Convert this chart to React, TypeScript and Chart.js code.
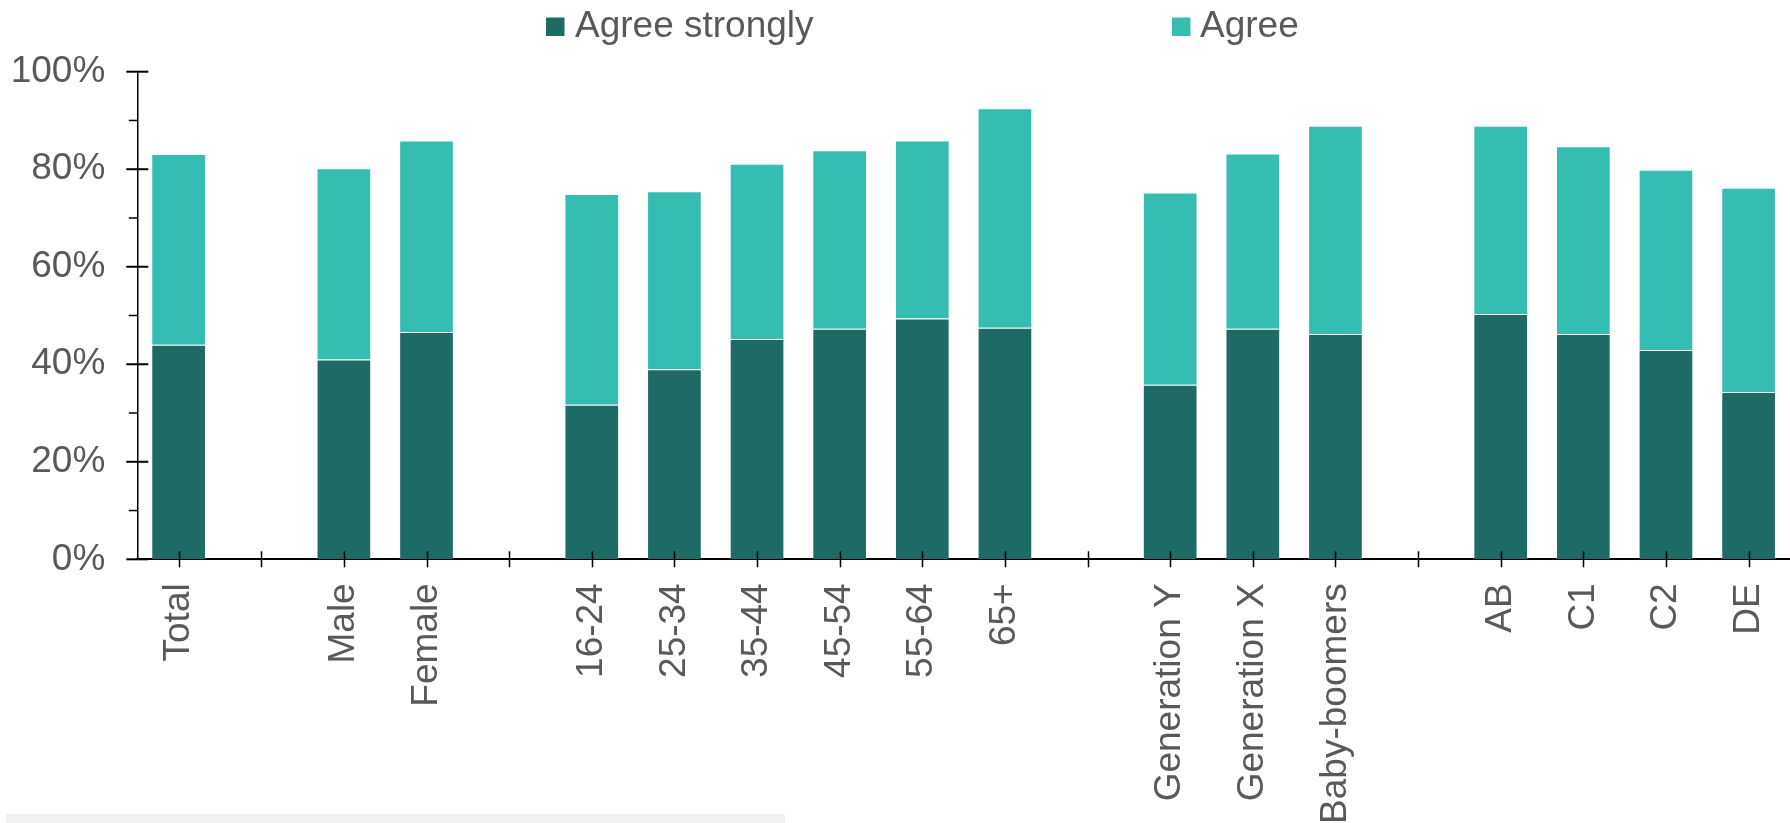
import React, { useEffect, useRef } from 'react';
import { Chart, registerables } from 'chart.js';

Chart.register(...registerables);

const categories = ['Total', '', 'Male', 'Female', '', '16-24', '25-34', '35-44', '45-54', '55-64', '65+', '', 'Generation Y', 'Generation X', 'Baby-boomers', '', 'AB', 'C1', 'C2', 'DE'];
const agreeStrongly = [44.0, null, 41.0, 46.6, null, 31.7, 39.0, 45.2, 47.3, 49.4, 47.5, null, 35.8, 47.3, 46.2, null, 50.3, 46.2, 42.9, 34.3];
const agree = [39.1, null, 39.2, 39.3, null, 43.2, 36.5, 35.9, 36.6, 36.5, 45.0, null, 39.4, 35.9, 42.7, null, 38.6, 38.5, 37.0, 41.9];
const seriesNames = ['Agree strongly', 'Agree'];
const seriesColors = ['#1e6b65', '#36bdb1'];
const yMajorTicks = [0, 20, 40, 60, 80, 100];
const yMinorTicks = [10, 30, 50, 70, 90];

const FONT = "'Liberation Sans', Arial, sans-serif";
const TEXT = '#595959';
const FONT_SIZE = 37;

const axisMarks = {
  id: 'axisMarks',
  afterDatasetsDraw(chart: any) {
    const ctx = chart.ctx;
    const xs = chart.scales.x;
    const ys = chart.scales.y;
    const area = chart.chartArea;
    ctx.save();
    ctx.strokeStyle = '#000';
    ctx.lineWidth = 1.5;
    categories.forEach((_, i) => {
      const x = Math.round(xs.getPixelForValue(i)) + 0.5;
      ctx.beginPath();
      ctx.moveTo(x, area.bottom - 8);
      ctx.lineTo(x, area.bottom + 8);
      ctx.stroke();
    });
    ctx.lineWidth = 2;
    yMajorTicks.forEach((v) => {
      const y = ys.getPixelForValue(v);
      ctx.beginPath();
      ctx.moveTo(area.left - 11, y);
      ctx.lineTo(area.left + 11, y);
      ctx.stroke();
    });
    ctx.lineWidth = 1.5;
    yMinorTicks.forEach((v) => {
      const y = ys.getPixelForValue(v);
      ctx.beginPath();
      ctx.moveTo(area.left - 8.5, y);
      ctx.lineTo(area.left, y);
      ctx.stroke();
    });
    ctx.restore();
  },
  afterDraw(chart: any) {
    const ctx = chart.ctx;
    ctx.save();
    const items = [
      { box: 546, text: 575 },
      { box: 1172, text: 1200 },
    ];
    chart.data.datasets.forEach((ds: any, i: number) => {
      ctx.fillStyle = ds.backgroundColor;
      ctx.fillRect(items[i].box, 17.5, 18.5, 18.5);
      ctx.fillStyle = TEXT;
      ctx.font = `${FONT_SIZE}px ${FONT}`;
      ctx.textBaseline = 'alphabetic';
      ctx.textAlign = 'left';
      ctx.fillText(ds.label, items[i].text, 36.7);
    });
    ctx.restore();
  },
};

export default function App() {
  const ref = useRef<HTMLCanvasElement>(null);
  useEffect(() => {
    if (!ref.current) return;
    const chart = new Chart(ref.current, {
      type: 'bar',
      data: {
        labels: categories,
        datasets: [
          { label: seriesNames[0], data: agreeStrongly, backgroundColor: seriesColors[0], borderColor: 'rgba(255,255,255,0.18)', borderWidth: 1 },
          { label: seriesNames[1], data: agree, backgroundColor: seriesColors[1], borderColor: 'rgba(255,255,255,0.25)', borderWidth: 1 },
        ],
      },
      options: {
        responsive: false,
        animation: false,
        devicePixelRatio: 1,
        layout: { padding: { top: 71.7, left: 0, right: 0, bottom: 0 } },
        datasets: { bar: { categoryPercentage: 1, barPercentage: 0.662 } },
        plugins: { legend: { display: false }, tooltip: { enabled: false } },
        scales: {
          x: {
            stacked: true,
            grid: { display: false, drawTicks: false },
            border: { display: true, color: '#000', width: 2 },
            ticks: {
              autoSkip: false,
              maxRotation: 90,
              minRotation: 90,
              padding: 24,
              color: TEXT,
              font: { family: FONT, size: FONT_SIZE },
            },
            afterFit: (s: any) => { s.height = 823 - 559.3; },
          },
          y: {
            stacked: true,
            min: 0,
            max: 100,
            grid: { display: false, drawTicks: false },
            border: { display: true, color: '#000', width: 1.5 },
            ticks: {
              stepSize: 20,
              padding: 32,
              color: TEXT,
              font: { family: FONT, size: FONT_SIZE },
              callback: (v: any) => `${v}%`,
            },
            afterFit: (s: any) => { s.width = 137.3; },
          },
        },
      },
      plugins: [axisMarks],
    });
    return () => chart.destroy();
  }, []);
  return (
    <div style={{ position: 'fixed', left: 0, top: 0, width: 1790, height: 823, overflow: 'hidden', background: '#fff' }}>
      <canvas ref={ref} width={1817} height={823} style={{ display: 'block' }} />
      <div style={{ position: 'absolute', left: 6, top: 814, width: 779, height: 9, background: '#f0f0f0' }} />
    </div>
  );
}
